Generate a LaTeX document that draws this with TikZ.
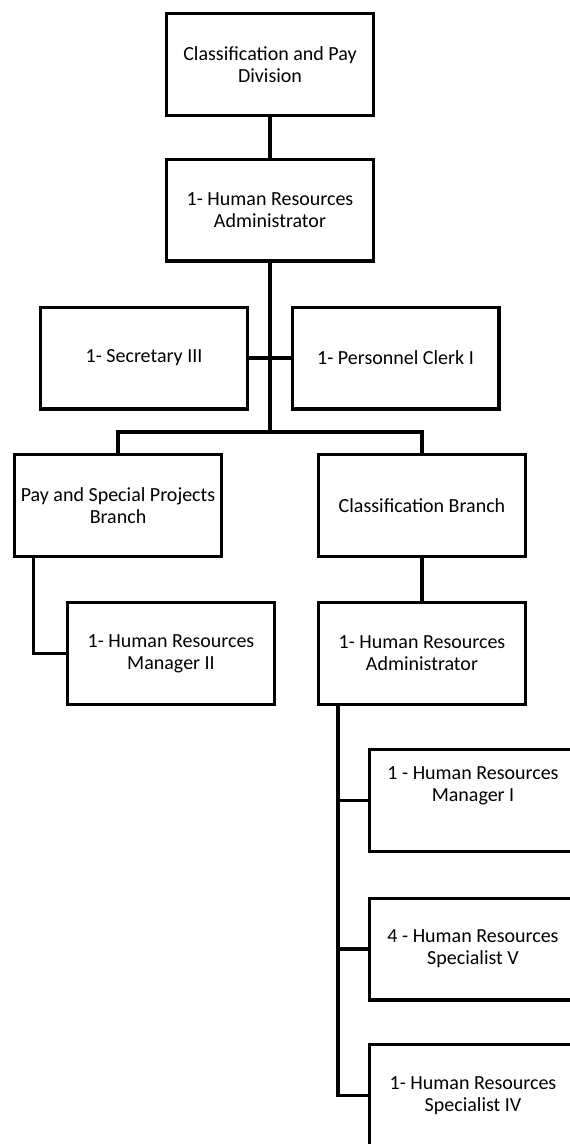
\documentclass[tikz,border=0pt]{standalone}
\usepackage{fontspec}
\setmainfont{Carlito}
\begin{document}
\begin{tikzpicture}[x=1pt,y=-1pt,
  txtfont/.style={font=\fontsize{20}{22}\selectfont},
  box/.style={draw=black, line width=3.4pt, rectangle, minimum width=206.6pt, minimum height=101.6pt, inner sep=0pt, align=center, txtfont},
  conn/.style={draw=black, line width=3.4pt}]
\clip (0,0) rectangle (570,1144);
\fill[white] (0,0) rectangle (570,1144);
\node[box] (div) at (270,64.5) {Classification and Pay\\Division};
\node[box] (adm) at (270,210) {1- Human Resources\\Administrator};
\node[box] (sec) at (144,358) {1- Secretary III};
\node[box] (clk) at (395.5,358) {1- Personnel Clerk I};
\node[box] (pay) at (118,505.5) {Pay and Special Projects\\Branch};
\node[box] (cls) at (422,505.5) {Classification Branch};
\node[box] (mg2) at (171,653.5) {1- Human Resources\\Manager II};
\node[box] (adm2) at (422,653.5) {1- Human Resources\\Administrator};
\node[box, label={[txtfont, align=center, yshift=15pt]center:1 - Human Resources\\Manager I}] (mg1) at (473,800.5) {};
\node[box] (sp5) at (473,949) {4 - Human Resources\\Specialist V};
\node[box] (sp4) at (473,1095.5) {1- Human Resources\\Specialist IV};
\coordinate (bar) at (270,432);
\coordinate (v) at ([xshift=21pt]adm2.south west);
\draw[conn] (div.south) -- (adm.north);
\draw[conn] (adm.south) -- (bar);
\draw[conn] (sec.east) -- (clk.west);
\draw[conn] (pay.north) |- (bar) -| (cls.north);
\draw[conn] ([xshift=20.5pt]pay.south west) |- (mg2.west);
\draw[conn] (cls.south) -- (adm2.north);
\draw[conn] (v) |- (sp4.west);
\draw[conn] (v) |- (mg1.west);
\draw[conn] (v) |- (sp5.west);
\end{tikzpicture}
\end{document}
